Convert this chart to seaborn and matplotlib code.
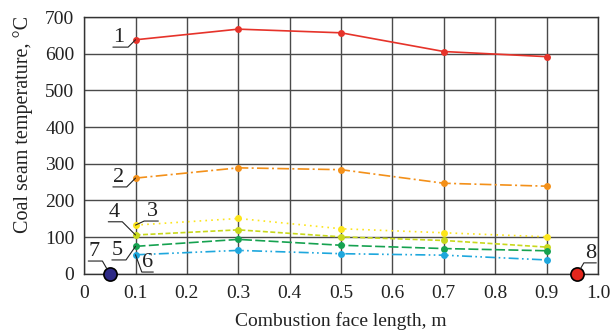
import pandas as pd
import matplotlib
matplotlib.use("Agg")
import matplotlib.pyplot as plt
import seaborn as sns

# values
face_len = [0.1, 0.3, 0.5, 0.7, 0.9]
curve_1 = [638, 667, 657, 606, 592]
curve_2 = [261, 289, 284, 247, 239]
curve_3 = [133, 151, 123, 112, 101]
curve_4 = [106, 120, 101, 91, 73]
curve_5 = [75, 94, 78, 69, 63]
curve_6 = [52, 64, 55, 51, 38]
curve_names = ["1", "2", "3", "4", "5", "6"]
colors = ["#e6332a", "#f39019", "#fce51c", "#c8d81c", "#16a250", "#1ea7dd"]
dash_styles = ["", (7, 2, 1.2, 2), (1, 2.5), (3, 1.5), (6, 2), (6, 2, 1, 2, 1, 2)]

point_7 = (0.05, 0)
point_8 = (0.96, 0)

rows = []
for name, vals in zip(curve_names, [curve_1, curve_2, curve_3, curve_4, curve_5, curve_6]):
    for x, y in zip(face_len, vals):
        rows.append({"length": x, "temp": y, "curve": name})
df = pd.DataFrame(rows)

sns.set_theme(style="white")
plt.rcParams['font.family'] = ['Liberation Serif', 'DejaVu Serif']

fig = plt.figure(figsize=(6.14, 3.34), dpi=100)
ax = fig.add_axes([0.137, 0.18, 0.837, 0.769])

sns.lineplot(data=df, x="length", y="temp", hue="curve", style="curve",
             palette=dict(zip(curve_names, colors)),
             dashes=dict(zip(curve_names, dash_styles)),
             markers=dict(zip(curve_names, ["o"] * 6)),
             markersize=5, markeredgewidth=0, linewidth=1.2,
             legend=False, ax=ax, zorder=3)

ax.scatter([point_7[0]], [point_7[1]], s=90, color="#2e2a86", edgecolor="black",
           linewidth=1.2, zorder=5, clip_on=False)
ax.scatter([point_8[0]], [point_8[1]], s=90, color="#e2261c", edgecolor="black",
           linewidth=1.2, zorder=5, clip_on=False)

ax.set_xlim(0, 1.0)
ax.set_ylim(0, 700)
ax.set_xticks([0, 0.1, 0.2, 0.3, 0.4, 0.5, 0.6, 0.7, 0.8, 0.9, 1.0])
ax.set_xticklabels(["0", "0.1", "0.2", "0.3", "0.4", "0.5", "0.6", "0.7", "0.8", "0.9", "1.0"])
ax.set_yticks(range(0, 701, 100))
ax.grid(True, color="#4a4a4a", linewidth=1)
ax.tick_params(axis="x", length=0, labelsize=14, colors="#222222", pad=8)
ax.tick_params(axis="y", length=0, labelsize=14, colors="#222222", pad=7)
for s in ax.spines.values():
    s.set_color("#333333")
    s.set_linewidth(1)

ax.set_xlabel("Combustion face length, m", fontsize=14, color="#222222")
ax.set_ylabel("Coal seam temperature, °C", fontsize=14.5, color="#222222")
ax.xaxis.set_label_coords(0.5, -0.15)
ax.yaxis.set_label_coords(-0.10, 0.58)

# numbered callouts: underline + leader line (text pos, anchor corner, leader angle)
labels = [
    ("1", (0.1, curve_1[0]), (0.056, 618), (0, 0), 45),
    ("2", (0.1, curve_2[0]), (0.056, 237), (0, 0), 45),
    ("3", (0.1, curve_3[0]), (0.123, 144), (1, 0), 25),
    ("4", (0.1, curve_4[0]), (0.047, 142), (0, 0), 135),
    ("5", (0.1, curve_5[0]), (0.054, 38), (0, 0), 55),
    ("6", (0.1, curve_6[0]), (0.113, 5), (1, 0), 110),
    ("7", point_7, (0.008, 35), (0, 0), 120),
    ("8", point_8, (0.975, 30), (1, 0), 60),
]
for txt, xy, xytext, rel, ang in labels:
    shrink = 4.5 if txt in ("7", "8") else 0
    ax.annotate(txt, xy=xy, xytext=xytext, fontsize=16,
                color="#222222", ha="left", va="bottom",
                arrowprops=dict(arrowstyle="-", color="#222222", lw=0.8,
                                shrinkA=0, shrinkB=shrink, relpos=rel, patchA=None,
                                connectionstyle="angle,angleA=0,angleB=%d,rad=0" % ang),
                annotation_clip=False, zorder=6)

fig.savefig("out.png", dpi=100)
